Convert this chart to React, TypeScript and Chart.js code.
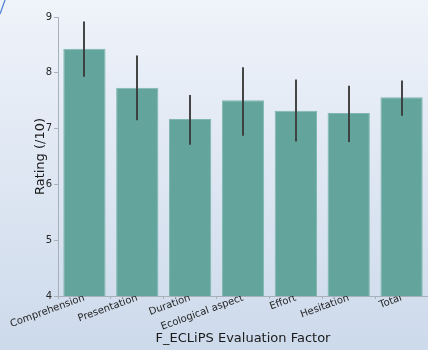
import React, { useEffect, useRef } from "react";
import { Chart, registerables } from "chart.js";

Chart.register(...registerables);

const categories = ["Comprehension", "Presentation", "Duration", "Ecological aspect", "Effort", "Hesitation", "Total"];
const ratings = [8.43, 7.73, 7.17, 7.51, 7.32, 7.28, 7.56];
const errLow = [7.93, 7.15, 6.71, 6.87, 6.77, 6.76, 7.23];
const errHigh = [8.92, 8.31, 7.6, 8.1, 7.88, 7.77, 7.86];
const yTicks = [4, 5, 6, 7, 8, 9];

const bgPlugin = {
  id: "bg",
  beforeDraw(chart: any) {
    const { ctx, width, height } = chart;
    const g = ctx.createLinearGradient(0, 0, 0, height);
    g.addColorStop(0, "#eff3fa");
    g.addColorStop(1, "#cddaeb");
    ctx.save();
    ctx.fillStyle = g;
    ctx.fillRect(0, 0, width, height);
    ctx.strokeStyle = "#4a7fd0";
    ctx.lineWidth = 1.2;
    ctx.beginPath();
    ctx.moveTo(0, 14);
    ctx.lineTo(5, 0);
    ctx.stroke();
    ctx.restore();
  },
};

const errPlugin = {
  id: "errbars",
  afterDatasetsDraw(chart: any) {
    const { ctx } = chart;
    const x = chart.scales.x;
    const y = chart.scales.y;
    ctx.save();
    ctx.strokeStyle = "rgba(60,60,60,0.95)";
    ctx.lineWidth = 2;
    categories.forEach((_, i) => {
      const px = Math.round(x.getPixelForValue(i));
      ctx.beginPath();
      ctx.moveTo(px, y.getPixelForValue(errLow[i]));
      ctx.lineTo(px, y.getPixelForValue(errHigh[i]));
      ctx.stroke();
    });
    ctx.restore();
  },
};

export default function App() {
  const ref = useRef<HTMLCanvasElement>(null);
  useEffect(() => {
    const font = "'DejaVu Sans', sans-serif";
    const chart = new Chart(ref.current!, {
      type: "bar",
      data: {
        labels: categories,
        datasets: [
          {
            data: ratings,
            backgroundColor: "#63a49c",
            borderColor: "#80b8b0",
            borderWidth: 1,
            categoryPercentage: 1,
            barPercentage: 0.8,
          },
        ],
      },
      options: {
        animation: false,
        responsive: false,
        maintainAspectRatio: false,
        layout: { padding: { top: 17, right: 0, left: 0, bottom: 0 } },
        plugins: { legend: { display: false }, tooltip: { enabled: false } },
        scales: {
          x: {
            afterFit(s: any) {
              s.height = 54;
            },
            grid: { display: true, drawOnChartArea: false, drawTicks: true, tickLength: 3, color: "#a8b0ba" },
            border: { display: true, color: "#a8b0ba", width: 1 },
            ticks: {
              color: "#262626",
              font: { family: font, size: 10 },
              minRotation: 20,
              maxRotation: 20,
              autoSkip: false,
              padding: -7,
            },
            title: {
              display: true,
              text: "F_ECLiPS Evaluation Factor",
              color: "#1a1a1a",
              font: { family: font, size: 13 },
              padding: { top: 0, bottom: 4 },
            },
          },
          y: {
            min: 4,
            max: 9,
            afterFit(s: any) {
              s.width = 58;
            },
            afterBuildTicks(s: any) {
              s.ticks = yTicks.map((v) => ({ value: v }));
            },
            grid: { display: true, drawOnChartArea: false, drawTicks: true, tickLength: 4, color: "#a8b0ba" },
            border: { display: true, color: "#a8b0ba", width: 1 },
            ticks: {
              color: "#262626",
              font: { family: font, size: 10 },
              padding: 2,
            },
            title: {
              display: true,
              text: "Rating (/10)",
              color: "#1a1a1a",
              font: { family: font, size: 13 },
              padding: { top: 33, bottom: 6 },
            },
          },
        },
      },
      plugins: [bgPlugin, errPlugin],
    });
    return () => chart.destroy();
  }, []);
  return (
    <div style={{ position: "absolute", left: 0, top: 0, width: 428, height: 350 }}>
      <canvas ref={ref} width={428} height={350} />
    </div>
  );
}
